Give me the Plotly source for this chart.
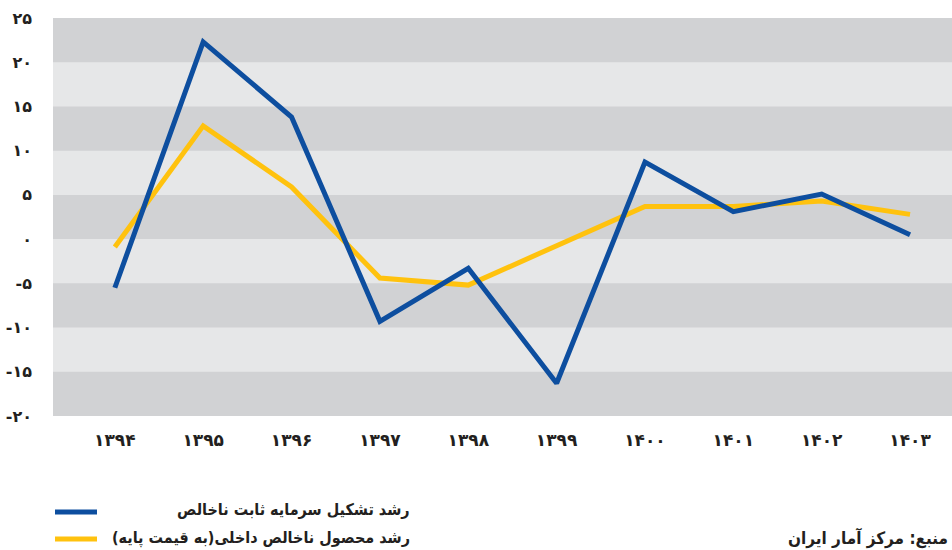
import plotly.graph_objects as go

years = ["1394", "1395", "1396", "1397", "1398", "1399", "1400", "1401", "1402", "1403"]
gfcf_growth = [-5.5, 22.3, 13.8, -9.3, -3.3, -16.3, 8.7, 3.1, 5.1, 0.5]
gdp_growth = [-0.9, 12.8, 5.9, -4.4, -5.2, -0.7, 3.7, 3.7, 4.3, 2.8]
y_ticks = [25, 20, 15, 10, 5, 0, -5, -10, -15, -20]
name_gfcf = "رشد تشکیل سرمایه ثابت ناخالص"
name_gdp = "رشد محصول ناخالص داخلی(به قیمت پایه)"
source_text = "منبع: مرکز آمار ایران"

FA = str.maketrans("0123456789", "۰۱۲۳۴۵۶۷۸۹")
def fa(s):
    return str(s).translate(FA)

BLUE = "#0d4e9f"
YELLOW = "#ffc20e"
DARK = "#d1d2d4"
LIGHT = "#e6e7e8"
FONT = "DejaVu Sans"
TFONT = "DejaVu Sans Condensed, DejaVu Sans"
TXT = "#231f20"

fig = go.Figure()
xs = list(range(len(years)))
fig.add_trace(go.Scatter(x=xs, y=gdp_growth, mode="lines",
                         line=dict(color=YELLOW, width=5), name=name_gdp))
fig.add_trace(go.Scatter(x=xs, y=gfcf_growth, mode="lines",
                         line=dict(color=BLUE, width=5), name=name_gfcf))

shapes = []
ts = sorted(y_ticks, reverse=True)
for i in range(len(ts) - 1):
    if i % 2 == 0:
        shapes.append(dict(type="rect", xref="paper", yref="y", x0=0, x1=1,
                           y0=ts[i + 1], y1=ts[i], fillcolor=DARK,
                           line=dict(width=0), layer="below"))

plot_h = 550 - 18 - 134
def py(pix):
    return (550 - 134 - pix) / plot_h
def px(pix):
    return (pix - 53) / (952 - 53)

for ypix, col in [(512, BLUE), (539, YELLOW)]:
    shapes.append(dict(type="line", xref="paper", yref="paper",
                       x0=px(55), x1=px(97), y0=py(ypix), y1=py(ypix),
                       line=dict(color=col, width=5)))

afont = dict(family=TFONT, size=16, color=TXT, weight="bold")
annotations = [
    dict(text=name_gfcf, xref="paper", yref="paper",
         x=px(412), y=py(509), xanchor="right", yanchor="middle",
         showarrow=False, font=afont),
    dict(text=name_gdp, xref="paper", yref="paper",
         x=px(412), y=py(538), xanchor="right", yanchor="middle",
         showarrow=False, font=afont),
    dict(text=source_text, xref="paper", yref="paper",
         x=px(950), y=py(538), xanchor="right", yanchor="middle",
         showarrow=False, font=dict(family=TFONT, size=17, color=TXT, weight="bold")),
]

fig.update_layout(
    width=952, height=550,
    margin=dict(l=53, r=0, t=18, b=134),
    paper_bgcolor="white", plot_bgcolor=LIGHT,
    showlegend=False,
    shapes=shapes, annotations=annotations,
    font=dict(family=FONT, color=TXT),
)
fig.update_xaxes(range=[-0.70, 9.475], tickvals=xs, ticktext=[fa(y) for y in years],
                 showgrid=False, zeroline=False, showline=False, ticks="",
                 tickfont=dict(family=FONT, size=17, color=TXT, weight="bold"),
                 ticklabelstandoff=12)
fig.update_yaxes(range=[-20, 25], tickvals=y_ticks,
                 ticktext=[("-" + fa(abs(v))) if v < 0 else fa(v) for v in y_ticks],
                 showgrid=False, zeroline=False, showline=False, ticks="",
                 tickfont=dict(family=FONT, size=16, color=TXT, weight="bold"),
                 ticklabelstandoff=20)

fig.write_html("out.html", config={"displayModeBar": False},
               post_script="document.body.style.margin='0';document.body.style.overflow='hidden';")
